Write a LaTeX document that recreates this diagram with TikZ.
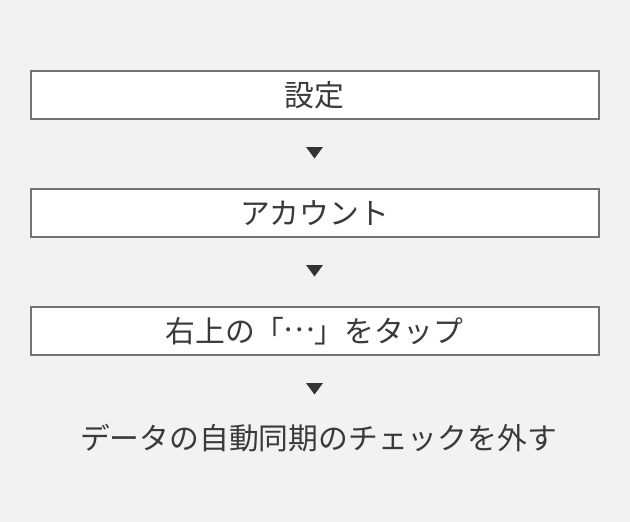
\documentclass[tikz,border=0pt]{standalone}
\usepackage{fontspec}
\usetikzlibrary{calc}
\newfontfamily\cjk{Noto Sans CJK JP}
\definecolor{bg}{HTML}{F2F2F2}
\definecolor{boxline}{HTML}{737373}
\definecolor{txt}{HTML}{3A3A3A}
\definecolor{tri}{HTML}{333333}
\begin{document}
\begin{tikzpicture}[x=1pt,y=-1pt,
  stepbox/.style={draw=boxline,line width=2pt,fill=white,minimum width=568pt,minimum height=48pt,inner sep=0pt,text=txt,font=\cjk\fontsize{29.8}{29.8}\selectfont},
  lastlabel/.style={text=txt,inner sep=0pt,font=\cjk\fontsize{29.8}{29.8}\selectfont},
  tridown/.style={fill=tri}]
\fill[bg] (0,0) rectangle (630,522);
\useasboundingbox (0,0) rectangle (630,522);
\node[stepbox] (s1) at (314.5,95) {設定};
\node[stepbox] (s2) at (314.5,213) {アカウント};
\node[stepbox] (s3) at (314.5,331) {右上の「\raisebox{0.36em}{\makebox[1em]{…}}」をタップ};
\node[lastlabel] (s4) at (318.5,438) {データの自動同期のチェックを外す};
\coordinate (t1) at (314.5,147);
\coordinate (t2) at (314.5,265);
\coordinate (t3) at (314.5,383);
\foreach \t in {t1,t2,t3}{
  \fill[tridown] ($(\t)+(-8.5,0)$) -- ($(\t)+(8.5,0)$) -- ($(\t)+(0,11.5)$) -- cycle;
}
\end{tikzpicture}
\end{document}
